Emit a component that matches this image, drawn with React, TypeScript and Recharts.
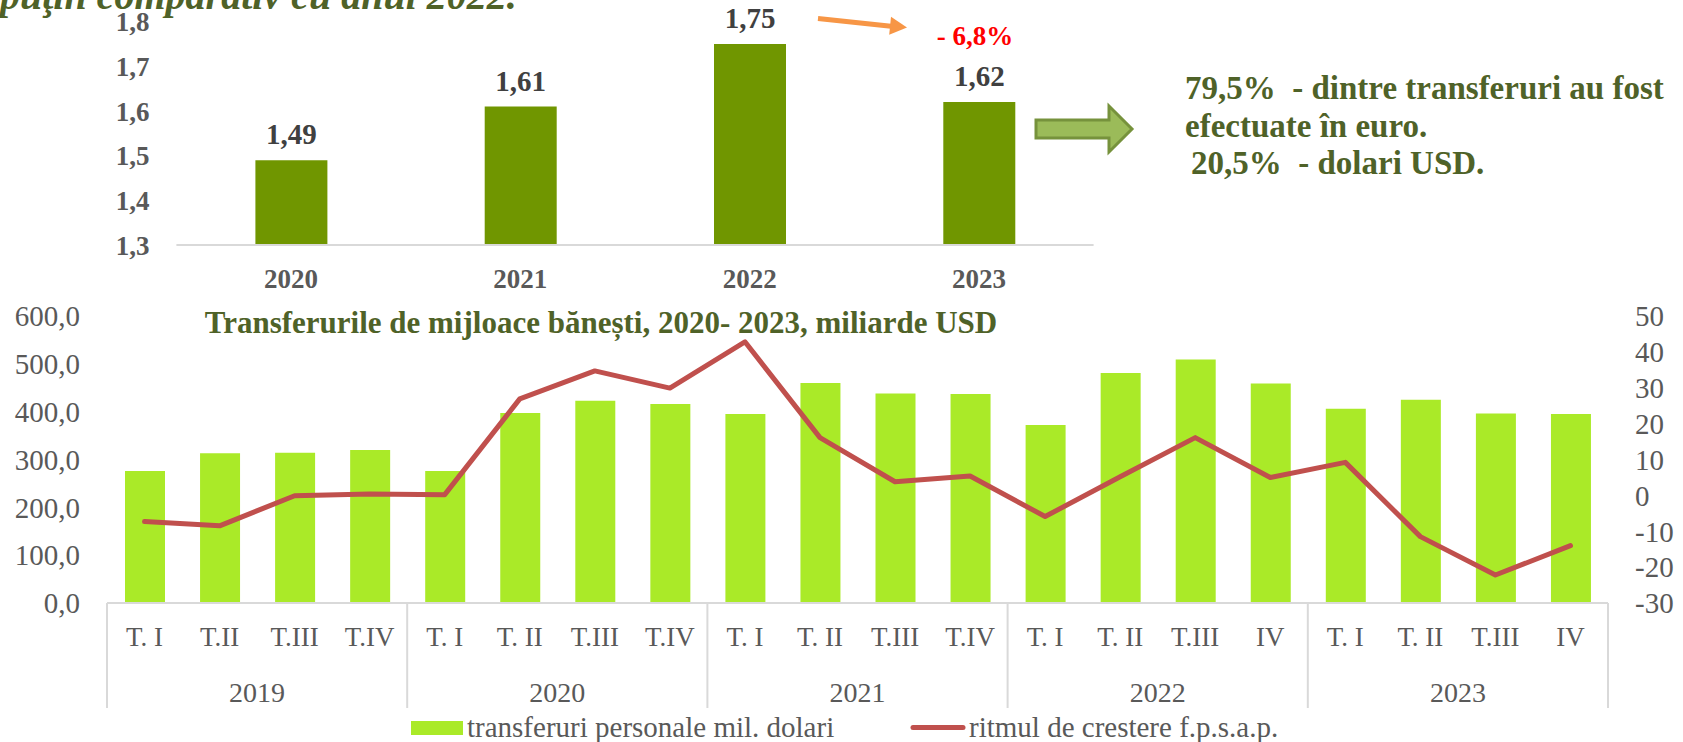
import React from "react"
import { BarChart, Bar, XAxis, YAxis, LabelList, ComposedChart, Line, Legend } from "recharts"

const FONT = '"Liberation Serif", "Times New Roman", serif'
const GREY = "#595959"
const OLIVE = "#4F6228"

// total anual, miliarde USD
const years = ["2020", "2021", "2022", "2023"]
const yearTotals = [1.49, 1.61, 1.75, 1.62]
const yearTicks = [1.3, 1.4, 1.5, 1.6, 1.7, 1.8]

// trimestrial
const quarterLabels = [
  "T. I", "T.II", "T.III", "T.IV",
  "T. I", "T. II", "T.III", "T.IV",
  "T. I", "T. II", "T.III", "T.IV",
  "T. I", "T. II", "T.III", "IV",
  "T. I", "T. II", "T.III", "IV",
]
const quarterYears = ["2019", "2020", "2021", "2022", "2023"]
const transfers = [
  276, 313, 314, 320,
  276, 397, 423, 416,
  395, 460, 438, 437,
  372, 481, 509, 459,
  406, 425, 396, 395,
]
const growth = [
  -7.3, -8.5, -0.1, 0.4,
  0.2, 26.9, 34.7, 29.9,
  42.8, 16.1, 3.8, 5.4,
  -5.9, 5.2, 16.1, 5.0,
  9.2, -11.5, -22.2, -14.0,
]
const leftTicks = [0, 100, 200, 300, 400, 500, 600]
const rightTicks = [-30, -20, -10, 0, 10, 20, 30, 40, 50]

const topData = years.map((y, i) => ({ year: y, value: yearTotals[i] }))
const bottomData = quarterLabels.map((q, i) => ({
  key: `${quarterYears[Math.floor(i / 4)]} ${i}`,
  q,
  transfers: transfers[i],
  growth: growth[i],
}))

const comma = (v: number, d: number) => v.toFixed(d).replace(".", ",")

// bottom chart geometry (chart coords)
const B_LEFT = 107
const B_RIGHT = 1608
const B_AXIS_Y = 313
const BAND = (B_RIGHT - B_LEFT) / quarterLabels.length

function QuarterTick(props: any) {
  const { payload } = props
  const i = payload.index
  const cx = payload.coordinate
  const parts: React.ReactNode[] = []
  parts.push(
    <text key="q" x={cx} y={B_AXIS_Y + 34} dy="0.35em" textAnchor="middle"
      fontFamily={FONT} fontSize={27} fill={GREY}>{quarterLabels[i]}</text>
  )
  if (i % 4 === 0) {
    const left = cx - BAND / 2
    parts.push(<line key="s" x1={left} x2={left} y1={B_AXIS_Y} y2={B_AXIS_Y + 105} stroke="#D9D9D9" strokeWidth={2} />)
    parts.push(
      <text key="y" x={left + BAND * 2} y={B_AXIS_Y + 89} dy="0.35em" textAnchor="middle"
        fontFamily={FONT} fontSize={28} fill={GREY}>{quarterYears[i / 4]}</text>
    )
  }
  if (i === quarterLabels.length - 1) {
    const right = cx + BAND / 2
    parts.push(<line key="e" x1={right} x2={right} y1={B_AXIS_Y} y2={B_AXIS_Y + 105} stroke="#D9D9D9" strokeWidth={2} />)
  }
  return <g>{parts}</g>
}

function LegendContent(props: any) {
  const items = props.payload || []
  const bar = items.find((p: any) => p.dataKey === "transfers")
  const line = items.find((p: any) => p.dataKey === "growth")
  return (
    <svg width={1683} height={30} style={{ display: "block" }}>
      <rect x={411} y={9} width={52} height={14} fill="#AAEA28" />
      <text x={467} y={15} dy="0.35em" fontFamily={FONT} fontSize={29} fill={GREY}>{bar?.value}</text>
      <line x1={913} x2={963} y1={15.5} y2={15.5} stroke="#C0504D" strokeWidth={5} strokeLinecap="round" />
      <text x={969} y={15} dy="0.35em" fontFamily={FONT} fontSize={29} fill={GREY}>{line?.value}</text>
    </svg>
  )
}

export default function App() {
  return (
    <div style={{ position: "absolute", left: 0, top: 0, width: 1683, height: 742, background: "#fff", overflow: "hidden" }}>
      <div style={{ position: "absolute", left: 0, top: 0 }}>
        <BarChart width={1683} height={300} data={topData}
          margin={{ top: 21.7, right: 589.4, bottom: 0, left: 0 }}>
          <XAxis dataKey="year" height={55} tickLine={false} axisLine={{ stroke: "#D9D9D9", strokeWidth: 2 }}
            tickMargin={18}
            tick={{ fontFamily: FONT, fontSize: 27, fontWeight: 700, fill: GREY }} />
          <YAxis width={176.4} domain={[1.3, 1.8]} ticks={yearTicks} axisLine={false} tickLine={false}
            tickMargin={21} interval={0} allowDataOverflow
            tickFormatter={(v: number) => comma(v, 1)}
            tick={{ fontFamily: FONT, fontSize: 27, fontWeight: 700, fill: GREY }} />
          <Bar dataKey="value" fill="#709600" barSize={72} isAnimationActive={false}>
            <LabelList dataKey="value" position="top" offset={16}
              formatter={(v: any) => comma(Number(v), 2)}
              style={{ fontFamily: FONT, fontSize: 29, fontWeight: 700, fill: "#404040" }} />
          </Bar>
        </BarChart>
      </div>

      <div style={{ position: "absolute", left: 0, top: 290 }}>
        <ComposedChart width={1683} height={452} data={bottomData}
          margin={{ top: 26, right: 0, bottom: 34, left: 0 }}>
          <XAxis dataKey="key" height={105} interval={0} tickLine={false}
            axisLine={{ stroke: "#D9D9D9", strokeWidth: 2 }} tick={<QuarterTick />} />
          <YAxis yAxisId="left" width={B_LEFT} domain={[0, 600]} ticks={leftTicks} interval={0}
            axisLine={false} tickLine={false} tickMargin={21}
            tickFormatter={(v: number) => comma(v, 1)}
            tick={{ fontFamily: FONT, fontSize: 29, fill: GREY }} />
          <YAxis yAxisId="right" orientation="right" width={1683 - B_RIGHT} domain={[-30, 50]}
            ticks={rightTicks} interval={0} axisLine={false} tickLine={false} tickMargin={21}
            tick={{ fontFamily: FONT, fontSize: 29, fill: GREY, textAnchor: "start" }} />
          <Bar yAxisId="left" dataKey="transfers" name="transferuri personale mil. dolari"
            fill="#AAEA28" barSize={40} isAnimationActive={false} />
          <Line yAxisId="right" dataKey="growth" name="ritmul de crestere f.p.s.a.p." type="linear"
            stroke="#C0504D" strokeWidth={5} strokeLinecap="round" strokeLinejoin="round"
            dot={false} activeDot={false} isAnimationActive={false} />
          <Legend layout="horizontal" verticalAlign="middle" align="center"
            wrapperStyle={{ top: 422, left: 0, width: 1683, height: 30 }}
            content={<LegendContent />} />
        </ComposedChart>
      </div>

      <svg width={1683} height={742} style={{ position: "absolute", left: 0, top: 0, pointerEvents: "none" }}>
        <text x={0} y={9} fontFamily={FONT} fontSize={40} fontWeight={700} fontStyle="italic" fill={OLIVE}>
          puţin comparativ cu anul 2022.
        </text>
        <line x1={818} y1={18.5} x2={891} y2={26.2} stroke="#F79646" strokeWidth={5} />
        <polygon points="907,27.5 889.2,34.7 891,16.7" fill="#F79646" />
        <text x={975} y={36} dy="0.35em" textAnchor="middle" fontFamily={FONT} fontSize={27}
          fontWeight={700} fill="#FF0000">- 6,8%</text>
        <polygon points="1036,120 1109,120 1109,106 1132,129 1109,152 1109,138 1036,138"
          fill="#9BBB59" stroke="#76923C" strokeWidth={3} />
        <g fontFamily={FONT} fontSize={33} fontWeight={700} fill={OLIVE}>
          <text x={1185} y={87} dy="0.35em" xmlSpace="preserve" style={{ whiteSpace: "pre" }}>{"79,5%  - dintre transferuri au fost"}</text>
          <text x={1185} y={125} dy="0.35em">efectuate în euro.</text>
          <text x={1191} y={162} dy="0.35em" xmlSpace="preserve" style={{ whiteSpace: "pre" }}>{"20,5%  - dolari USD."}</text>
        </g>
        <text x={601} y={322} dy="0.35em" textAnchor="middle" fontFamily={FONT} fontSize={31}
          fontWeight={700} fill={OLIVE}>Transferurile de mijloace bănești, 2020- 2023, miliarde USD</text>
      </svg>
    </div>
  )
}
